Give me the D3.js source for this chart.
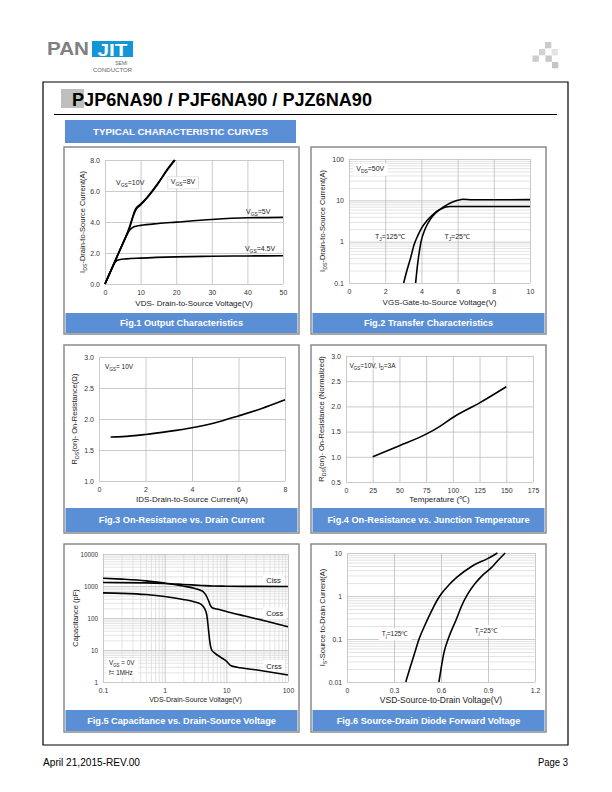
<!DOCTYPE html>
<html><head><meta charset="utf-8">
<script src="https://cdn.jsdelivr.net/npm/d3@7"></script>
<style>
body{margin:0;background:#fff;}
svg{display:block;font-family:"Liberation Sans",Arial,Helvetica,sans-serif;}
</style></head><body>
<svg id="page" width="612" height="792"></svg>
<script>
// ================= DATA =================
// Fig.1 Output characteristics  [VDS (V), IDS (A)]
const fig1Vgs10 = [[0,0],[2,1.05],[4,2.1],[6,3.15],[7,3.75],[8,4.5],[8.6,4.85],[10,5.15],[12,5.65],[15,6.55],[17.5,7.4],[19.5,8.0]];
const fig1Vgs8  = [[0,0],[2,1.04],[4,2.08],[6,3.12],[7,3.7],[8,4.42],[8.7,4.8],[10,5.1],[12,5.6],[15,6.5],[17.5,7.35],[19.7,8.0]];
const fig1Vgs5  = [[0,0],[2,1.05],[4,2.1],[6,3.1],[7,3.5],[8,3.68],[9,3.74],[10,3.78],[15,3.9],[20,3.99],[30,4.16],[40,4.27],[50,4.3]];
const fig1Vgs45 = [[0,0],[1,0.52],[2,1.02],[2.7,1.35],[3.2,1.5],[4,1.57],[6,1.62],[10,1.67],[20,1.75],[30,1.79],[40,1.81],[50,1.82]];
const fig1XTicks = [0,10,20,30,40,50];
const fig1YTicks = [0,2,4,6,8];

// Fig.2 Transfer characteristics [VGS (V), IDS (A)]
const fig2Tj125 = [[3.02,0.1],[3.2,0.2],[3.4,0.4],[3.6,0.85],[3.8,1.4],[4.0,2.1],[4.3,3.2],[4.7,4.8],[5.0,5.9],[5.3,6.8],[5.6,7.1],[6,7.1],[8,7.1],[10,7.1]];
const fig2Tj25  = [[3.68,0.1],[3.75,0.2],[3.85,0.45],[3.98,1.0],[4.2,2.0],[4.5,3.5],[4.8,5.0],[5.2,6.8],[5.6,8.6],[6.0,10.0],[6.3,10.6],[6.8,10.3],[8,10.3],[10,10.4]];
const fig2XTicks = [0,2,4,6,8,10];
const fig2YTicks = [0.1,1,10,100];

// Fig.3 On-resistance vs drain current
const fig3Ids = [0.5,1,2,3,4,5,6,7,8];
const fig3Rds = [1.71,1.715,1.75,1.8,1.86,1.94,2.05,2.17,2.31];
const fig3XTicks = [0,2,4,6,8];
const fig3YTicks = [1.0,1.5,2.0,2.5,3.0];

// Fig.4 On-resistance vs junction temperature
const fig4Temp = [25,50,75,87.5,100,125,150];
const fig4Rn   = [1.0,1.22,1.45,1.6,1.78,2.07,2.39];
const fig4XTicks = [0,25,50,75,100,125,150,175];
const fig4YTicks = [0.5,1.0,1.5,2.0,2.5,3.0];

// Fig.5 Capacitance [VDS (V), C (pF)]
const fig5Ciss = [[0.1,1280],[0.5,1250],[1,1200],[2,1120],[4,1040],[6,1000],[10,985],[30,970],[100,960]];
const fig5Coss = [[0.1,1750],[0.2,1640],[0.5,1450],[1,1230],[2,1000],[3,850],[3.8,740],[4.3,640],[4.8,470],[5.2,330],[5.6,235],[6,205],[7,192],[10,160],[20,115],[50,75],[100,53]];
const fig5Crss = [[0.1,610],[0.2,590],[0.5,540],[1,470],[2,380],[3,320],[3.8,275],[4.3,220],[4.8,130],[5.1,50],[5.4,18],[5.8,10],[6.5,8],[8,6],[10,4.5],[12,3.2],[15,2.9],[30,2.4],[60,1.95],[100,1.65]];
const fig5XTicks = [0.1,1,10,100];
const fig5YTicks = [1,10,100,1000,10000];

// Fig.6 Source-drain diode forward voltage [VSD (V), IS (A)]
const fig6Tj125 = [[0.375,0.01],[0.4,0.02],[0.43,0.045],[0.46,0.1],[0.5,0.22],[0.54,0.45],[0.58,0.85],[0.6,1.1],[0.65,1.8],[0.7,2.7],[0.8,5],[0.9,7.5],[0.96,10]];
const fig6Tj25  = [[0.587,0.01],[0.6,0.02],[0.62,0.05],[0.65,0.11],[0.7,0.3],[0.73,0.57],[0.77,1.1],[0.82,2.0],[0.86,2.9],[0.92,4.5],[0.96,6.5],[1.01,10]];
const fig6XTicks = [0,0.3,0.6,0.9,1.2];
const fig6YTicks = [0.01,0.1,1,10];

// ================= DRAWING =================
const svg = d3.select('#page');
const BLUE = '#5b8fd5';
const GRID = '#bdbdbd';
const MINOR = '#dcdcdc';

function rich(sel, parts, fs){
  let cur = 0;
  parts.forEach(p=>{
    const sub = Array.isArray(p);
    const t = sub ? p[0] : p;
    const target = sub ? fs*0.3 : 0;
    sel.append('tspan').attr('dy', target-cur).attr('font-size', sub? fs*0.7 : fs).text(t);
    cur = target;
  });
  return sel;
}

// ---- header ----
svg.append('text').attr('x',47).attr('y',55).attr('font-size',18).attr('font-weight','bold')
  .attr('fill','#808080').attr('textLength',42).attr('lengthAdjust','spacingAndGlyphs').text('PAN');
svg.append('rect').attr('x',92).attr('y',41).attr('width',41).attr('height',16).attr('fill','#1496d6');
svg.append('text').attr('x',112.5).attr('y',55.5).attr('text-anchor','middle').attr('font-size',16).attr('font-weight','bold')
  .attr('fill','#fff').attr('textLength',30).attr('lengthAdjust','spacingAndGlyphs').text('JIT');
svg.append('text').attr('x',127.5).attr('y',64.5).attr('text-anchor','end').attr('font-size',5).attr('fill','#666').text('SEMI');
svg.append('text').attr('x',93).attr('y',71.5).attr('font-size',5).attr('fill','#666')
  .attr('textLength',39).attr('lengthAdjust','spacingAndGlyphs').text('CONDUCTOR');
[[545,42,'#cacaca'],[539,49,'#d2d2d2'],[551.5,49,'#e3e3e3'],[532.5,55.5,'#cdcdcd'],[545.5,55.5,'#c8c8c8'],[552,62,'#c4c4c4']]
  .forEach(s=>svg.append('rect').attr('x',s[0]).attr('y',s[1]).attr('width',6.3).attr('height',6.3).attr('fill',s[2]));

// page frame
svg.append('path').attr('d','M43,745 V82 H568 V745 Z').attr('fill','none').attr('stroke','#000').attr('stroke-width',1.2);
svg.append('line').attr('x1',54).attr('x2',557).attr('y1',114.5).attr('y2',114.5).attr('stroke','#000').attr('stroke-width',1.2);
svg.append('rect').attr('x',61).attr('y',89).attr('width',23).attr('height',19).attr('fill','#bfbfbf');
svg.append('text').attr('x',72).attr('y',105.5).attr('font-size',18).attr('font-weight','bold').attr('fill','#000')
  .attr('textLength',300).attr('lengthAdjust','spacingAndGlyphs').text('PJP6NA90 / PJF6NA90 / PJZ6NA90');

// section header
svg.append('rect').attr('x',65).attr('y',120).attr('width',231).attr('height',23).attr('fill',BLUE);
svg.append('text').attr('x',180.5).attr('y',135).attr('text-anchor','middle').attr('font-size',9.8).attr('font-weight','bold')
  .attr('fill','#fff').text('TYPICAL CHARACTERISTIC CURVES');

// footer
svg.append('text').attr('x',43).attr('y',766).attr('font-size',11).attr('fill','#000')
  .attr('textLength',97).attr('lengthAdjust','spacingAndGlyphs').text('April 21,2015-REV.00');
svg.append('text').attr('x',568).attr('y',766).attr('text-anchor','end').attr('font-size',11).attr('fill','#000')
  .attr('textLength',30).attr('lengthAdjust','spacingAndGlyphs').text('Page 3');

function minorsLog(lo, hi){
  const out=[];
  for(let e=Math.round(Math.log10(lo)); e<Math.round(Math.log10(hi)); e++){
    for(let k=2;k<=9;k++) out.push(k*Math.pow(10,e));
  }
  return out;
}

function chart(o){
  const g = svg.append('g');
  const [px,py,pw,ph] = o.panel;
  g.append('rect').attr('x',px).attr('y',py).attr('width',pw).attr('height',ph)
    .attr('fill','#fff').attr('stroke','#8a8a8a').attr('stroke-width',1.5);
  g.append('rect').attr('x',px+1.5).attr('y',o.cap[0]).attr('width',pw-3).attr('height',o.cap[1]).attr('fill',BLUE);
  g.append('text').attr('x',px+pw/2).attr('y',o.cap[0]+o.cap[1]/2+3.3).attr('text-anchor','middle')
    .attr('font-size',9.2).attr('font-weight','bold').attr('fill','#fff').text(o.caption);

  const [x0,y0,x1,y1] = o.plot;
  const x = (o.xlog ? d3.scaleLog() : d3.scaleLinear()).domain(o.xd).range([x0,x1]);
  const y = (o.ylog ? d3.scaleLog() : d3.scaleLinear()).domain(o.yd).range([y1,y0]);

  const grid = (axis, tr, vals, size, col) => {
    const a = g.append('g').attr('transform',tr)
      .call(axis.tickValues(vals).tickSize(size).tickFormat(''));
    a.select('.domain').remove();
    a.selectAll('line').attr('stroke',col).attr('stroke-width',0.8);
  };
  if(o.xMinor) grid(d3.axisBottom(x), `translate(0,${y1})`, o.xMinor, -(y1-y0), MINOR);
  if(o.yMinor) grid(d3.axisLeft(y), `translate(${x0},0)`, o.yMinor, -(x1-x0), MINOR);
  grid(d3.axisBottom(x), `translate(0,${y1})`, o.xt, -(y1-y0), GRID);
  grid(d3.axisLeft(y), `translate(${x0},0)`, o.yt, -(x1-x0), GRID);

  // tick labels via axes
  const tfs = o.tfs || 7;
  const ax = g.append('g').attr('transform',`translate(0,${y1})`)
    .call(d3.axisBottom(x).tickValues(o.xt).tickSize(0).tickPadding(o.xpad||6).tickFormat(o.xf));
  ax.select('.domain').remove();
  ax.selectAll('text').attr('font-size',tfs).attr('fill','#333').attr('font-family',null);
  const ay = g.append('g').attr('transform',`translate(${x0},0)`)
    .call(d3.axisLeft(y).tickValues(o.yt).tickSize(0).tickPadding(o.ypad||5).tickFormat(o.yf));
  ay.select('.domain').remove();
  ay.selectAll('text').attr('font-size',o.ytfs||tfs).attr('fill','#333').attr('font-family',null);

  // axis titles
  g.append('text').attr('x',(x0+x1)/2).attr('y',o.xtY).attr('text-anchor','middle')
    .attr('font-size',o.xtfs||8).attr('fill','#222').text(o.xTitle);
  const yt = g.append('text').attr('transform',`translate(${o.ytX},${(y0+y1)/2}) rotate(-90)`)
    .attr('text-anchor','middle').attr('fill','#222');
  rich(yt, o.yTitle, o.ytitfs||7.5);

  // labels (in data coords); labels sharing a box key get one white box behind them
  const boxes = {};
  (o.labels||[]).forEach(l=>{
    const t = g.append('text').attr('x',x(l.x)).attr('y',y(l.y)).attr('fill','#222');
    rich(t, l.parts, l.fs||7);
    if(l.box){
      const b = t.node().getBBox();
      const k = l.box;
      if(!boxes[k]) boxes[k] = {x0:b.x, y0:b.y, x1:b.x+b.width, y1:b.y+b.height, first:t.node(), border:l.border};
      else { const q=boxes[k]; q.x0=Math.min(q.x0,b.x); q.y0=Math.min(q.y0,b.y); q.x1=Math.max(q.x1,b.x+b.width); q.y1=Math.max(q.y1,b.y+b.height); }
    }
  });
  Object.values(boxes).forEach(q=>{
    g.insert('rect', () => q.first).attr('x',q.x0-3).attr('y',q.y0-1.5).attr('width',q.x1-q.x0+6).attr('height',q.y1-q.y0+3)
      .attr('fill','#fff').attr('stroke',q.border?'#d0d0d0':'none').attr('stroke-width',0.6);
  });

  // curves
  const line = d3.line().x(d=>x(d[0])).y(d=>y(d[1])).curve(d3.curveMonotoneX);
  o.series.forEach(s=>{
    g.append('path').datum(s).attr('d',line).attr('fill','none').attr('stroke','#000')
      .attr('stroke-width',1.6).attr('stroke-linejoin','round');
  });
  return {g,x,y};
}

// ---- Fig.1 ----
chart({panel:[64,147,235,187], cap:[313,20], caption:'Fig.1 Output Characteristics',
  plot:[105,160,283,284], xd:[0,50], yd:[0,8], xt:fig1XTicks, yt:fig1YTicks,
  xf:d3.format('d'), yf:d3.format('.1f'),
  xTitle:'VDS- Drain-to-Source Voltage(V)', xtY:306,
  yTitle:['I',['DS'],'-Drain-to-Source Current(A)'], ytX:85,
  series:[fig1Vgs8, fig1Vgs10, fig1Vgs5, fig1Vgs45],
  labels:[
    {x:3.1,y:6.39,parts:['V',['GS'],'=10V']},
    {x:18.5,y:6.43,parts:['V',['GS'],'=8V'],box:'a',border:true},
    {x:39.6,y:4.5,parts:['V',['GS'],'=5V']},
    {x:39.3,y:2.13,parts:['V',['GS'],'=4.5V']}
  ]});

// ---- Fig.2 ----
chart({panel:[311,147,235,187], cap:[313,20], caption:'Fig.2 Transfer Characteristics',
  plot:[349,159,530,283], xd:[0,10], yd:[0.1,100], ylog:true, xt:fig2XTicks, yt:fig2YTicks,
  yMinor:minorsLog(0.1,100),
  xf:d3.format('d'), yf:d=>String(d),
  xTitle:'VGS-Gate-to-Source Voltage(V)', xtY:305,
  yTitle:['I',['DS'],'-Drain-to-Source Current(A)'], ytX:325,
  series:[fig2Tj125, fig2Tj25],
  labels:[
    {x:0.4,y:51,parts:['V',['DS'],'=50V'],box:'a'},
    {x:1.44,y:1.15,parts:['T',['J'],'=125℃']},
    {x:5.27,y:1.15,parts:['T',['J'],'=25℃']}
  ]});

// ---- Fig.3 ----
chart({panel:[64,345,235,188], cap:[508,24], caption:'Fig.3 On-Resistance vs. Drain Current',
  plot:[99,357,285,481], xd:[0,8], yd:[1,3], xt:fig3XTicks, yt:fig3YTicks,
  xf:d3.format('d'), yf:d3.format('.1f'),
  xTitle:'IDS-Drain-to-Source  Current(A)', xtY:502,
  yTitle:['R',['DS'],'(on)- On-Resistance(Ω)'], ytX:77,
  series:[fig3Ids.map((v,i)=>[v,fig3Rds[i]])],
  labels:[{x:0.26,y:2.81,parts:['V',['GS'],'= 10V'],fs:6.5}]
});

// ---- Fig.4 ----
chart({panel:[311,345,235,188], cap:[508,24], caption:'Fig.4 On-Resistance vs. Junction Temperature',
  plot:[346,356,533,482], xd:[0,175], yd:[0.5,3], xt:fig4XTicks, yt:fig4YTicks,
  xf:d3.format('d'), yf:d3.format('.1f'),
  xTitle:'Temperature (℃)', xtY:502,
  yTitle:['R',['DS'],'(on)- On-Resistance (Normalized)'], ytX:324,
  series:[fig4Temp.map((v,i)=>[v,fig4Rn[i]])],
  labels:[{x:3.2,y:2.76,parts:['V',['GS'],'=10V, I',['D'],'=3A'],fs:6.5}]
});

// ---- Fig.5 ----
chart({panel:[64,544,235,188], cap:[710,21], caption:'Fig.5 Capacitance vs. Drain-Source Voltage',
  plot:[103,554,288,682], xd:[0.1,100], yd:[1,10000], xlog:true, ylog:true,
  xt:fig5XTicks, yt:fig5YTicks, xMinor:minorsLog(0.1,100), yMinor:minorsLog(1,10000),
  xf:d=>String(d), yf:d=>String(d), tfs:6.8, ytfs:6.3,
  xTitle:'VDS-Drain-Source Voltage(V)', xtY:702, xtfs:7,
  yTitle:['Capacitance (pF)'], ytX:78,
  series:[fig5Ciss, fig5Coss, fig5Crss],
  labels:[
    {x:0.125,y:3.3,parts:['V',['GS'],' = 0V'],fs:6.3,box:'cond'},
    {x:0.125,y:1.68,parts:['f= 1MHz'],fs:6.3,box:'cond'},
    {x:44.4,y:1230,parts:['Ciss'],fs:7.5,box:'c1'},
    {x:44.4,y:118,parts:['Coss'],fs:7.5,box:'c2'},
    {x:44.4,y:2.63,parts:['Crss'],fs:7.5,box:'c3'}
  ]});

// ---- Fig.6 ----
chart({panel:[311,544,235,188], cap:[710,21], caption:'Fig.6 Source-Drain Diode Forward Voltage',
  plot:[347,553,535,682], xd:[0,1.2], yd:[0.01,10], ylog:true, xt:fig6XTicks, yt:fig6YTicks,
  yMinor:minorsLog(0.01,10),
  xf:d=>String(d), yf:d=>String(d), tfs:6.8,
  xTitle:'VSD-Source-to-Drain Voltage(V)', xtY:703, xtfs:8.5,
  yTitle:['I',['S'],'-Source  to-Drain Current(A)'], ytX:325,
  series:[fig6Tj125, fig6Tj25],
  labels:[
    {x:0.222,y:0.117,parts:['T',['j'],'=125℃'],fs:6.5,box:'t1'},
    {x:0.816,y:0.14,parts:['T',['j'],'=25℃'],fs:6.5,box:'t2'}
  ]});
</script>
</body></html>
